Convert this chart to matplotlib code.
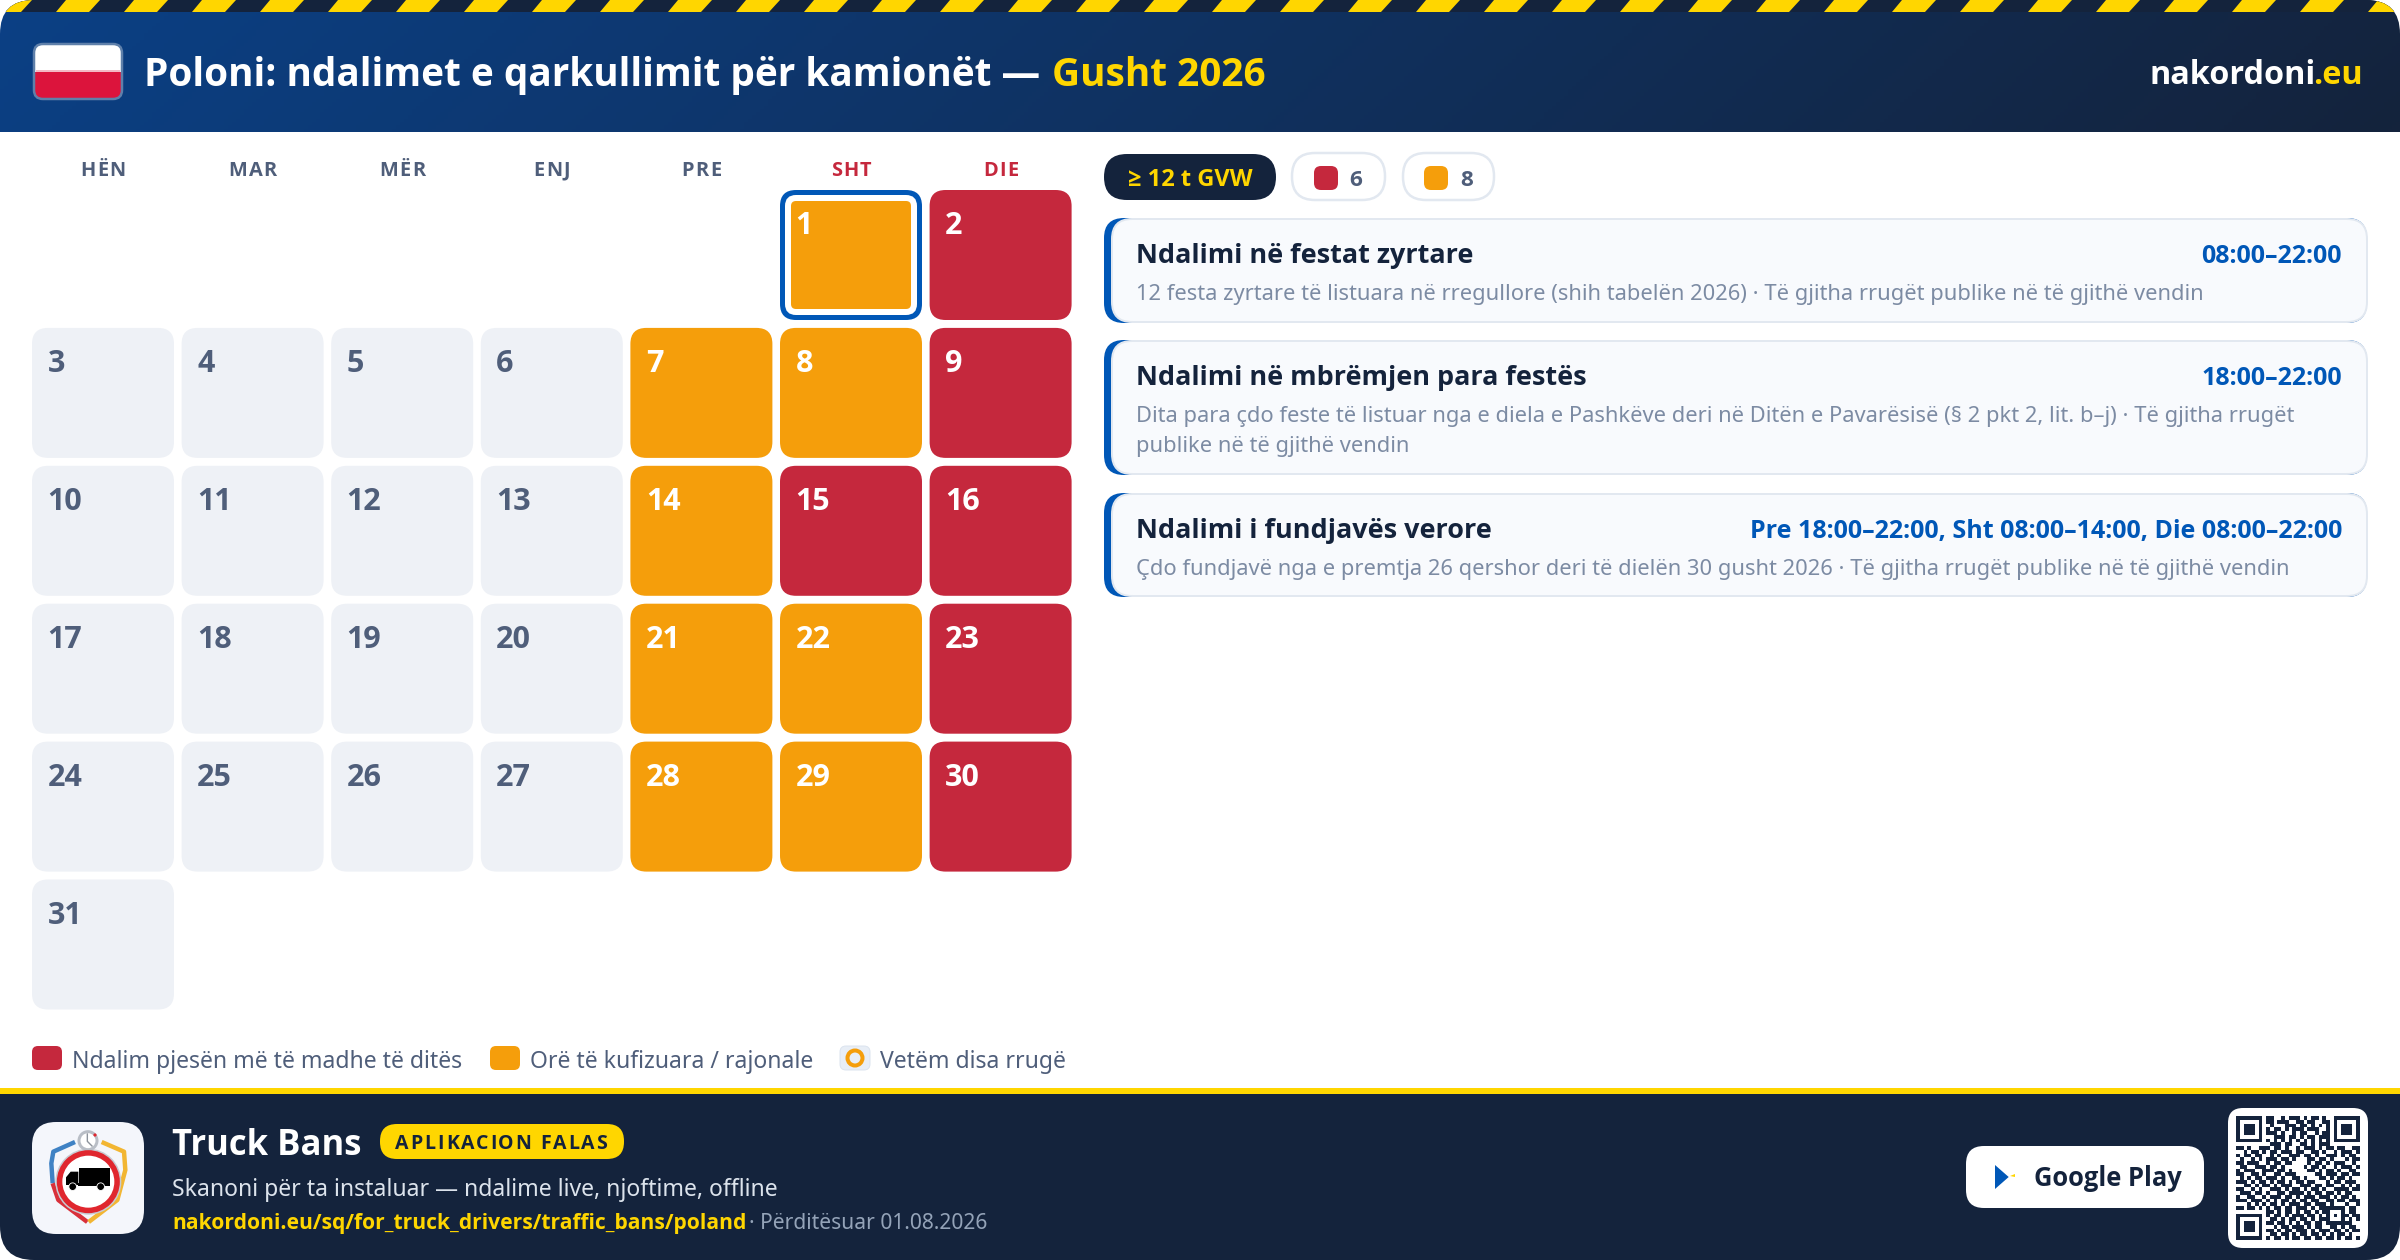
import matplotlib
matplotlib.use('Agg')
import matplotlib.pyplot as plt
import numpy as np
from matplotlib.colors import ListedColormap, LinearSegmentedColormap
from matplotlib.font_manager import FontProperties
from matplotlib.patches import Circle, FancyBboxPatch, Polygon, Rectangle
from matplotlib.textpath import text_to_path

# Noto Sans has no bold cut here, Open Sans Bold is the closest one
REGULAR_FONT = ['Noto Sans', 'DejaVu Sans']
BOLD_FONT = ['Open Sans', 'DejaVu Sans']
plt.rcParams['font.family'] = REGULAR_FONT

# Calendar data
WEEKDAYS = ['HËN', 'MAR', 'MËR', 'ENJ', 'PRE', 'SHT', 'DIE']
FIRST_COLUMN = 5
RED_DAYS = [2, 9, 15, 16, 23, 30]
ORANGE_DAYS = [1, 7, 8, 14, 21, 22, 28, 29]
TODAY = 1
N_DAYS = 31

# Text
TITLE = 'Poloni: ndalimet e qarkullimit për kamionët — '
TITLE_MONTH = 'Gusht 2026'
RULES = [
    ('Ndalimi në festat zyrtare', '08:00–22:00',
     ['12 festa zyrtare të listuara në rregullore (shih tabelën 2026) · Të gjitha rrugët publike në të gjithë vendin']),
    ('Ndalimi në mbrëmjen para festës', '18:00–22:00',
     ['Dita para çdo feste të listuar nga e diela e Pashkëve deri në Ditën e Pavarësisë (§ 2 pkt 2, lit. b–j) · Të gjitha rrugët',
      'publike në të gjithë vendin']),
    ('Ndalimi i fundjavës verore', 'Pre 18:00–22:00, Sht 08:00–14:00, Die 08:00–22:00',
     ['Çdo fundjavë nga e premtja 26 qershor deri të dielën 30 gusht 2026 · Të gjitha rrugët publike në të gjithë vendin']),
]
LEGEND = ['Ndalim pjesën më të madhe të ditës', 'Orë të kufizuara / rajonale', 'Vetëm disa rrugë']

# QR pattern
QR_ROWS = [
    '1111111' + '0' + '11001011101011010' + '0' + '1111111',
    '1000001' + '0' + '11011100110110011' + '0' + '1000001',
    '1011101' + '0' + '01000111011010101' + '0' + '1011101',
    '1011101' + '0' + '10110101110111001' + '0' + '1011101',
    '1011101' + '0' + '11101001011001011' + '0' + '1011101',
    '1000001' + '0' + '00111011010110111' + '0' + '1000001',
    '1111111' + '0' + '10101010101010101' + '0' + '1111111',
    '00000000' + '01110110011010111' + '00000000',
    '110100111011010010111010110110011',
    '001011010110111011001101001011101',
    '101101100101001110110100111010110',
    '010010101110110100011011010001011',
    '110111001011011000010110101110010',
    '011001110110100000101101001011101',
    '101110011101101000011010110100110',
    '110011010011011100000110111011011',
    '010101101110100110100011010110100',
    '111010110101101011011000101101110',
    '001101011010111001110110110010101',
    '110010100111010110101101001111011',
    '011101101001101111010110110101100',
    '100110010111011010111011101011010',
    '111011101010110101101100110110111',
    '000101010110101110110111010001001',
    '110110101011011011101011' + '11111' + '0110',
    '00000000' + '1101011010110101' + '10001' + '0110',
    '11111110' + '1011010111011010' + '10101' + '1011',
    '10000010' + '0110101101101011' + '10001' + '0101',
    '10111010' + '1101101010110110' + '11111' + '1100',
    '10111010' + '0010110111010110' + '01101' + '0110',
    '10111010' + '1101011011101011' + '10110' + '1011',
    '10000010' + '0110110101101101' + '01011' + '0100',
    '11111110' + '1011010110110110' + '11010' + '1101',
]

# Colours
NAVY = '#14233C'
YELLOW = '#FFD600'
RED = '#C5283D'
ORANGE = '#F59E0B'
BLUE = '#0057B7'
GREY_CELL = '#EEF1F6'
SLATE = '#4F5E7A'
MUTED = '#7C8BA3'
BORDER = '#E2E8F0'

fig = plt.figure(figsize=(24, 12.6), dpi=100)
ax = fig.add_axes([0, 0, 1, 1])
ax.axis('off')


def box(x, y, w, h, r, color, edge='none', lw=0, z=1):
    p = FancyBboxPatch((x, y), w, h, boxstyle=f'round,pad=0,rounding_size={r}',
                       facecolor=color, edgecolor=edge, linewidth=lw * 0.72, zorder=z)
    ax.add_patch(p)
    return p


def write(x, y, s, px, color, weight='normal', ha='left'):
    family = BOLD_FONT if weight == 'bold' else REGULAR_FONT
    return ax.text(x, y, s, fontsize=px * 0.72, color=color, fontweight=weight, family=family,
                   ha=ha, va='baseline', zorder=6)


def spaced(x, y, s, px, color, spacing, center=False):
    # matplotlib has no letter spacing, so place the letters one by one
    prop = FontProperties(family=BOLD_FONT, weight='bold', size=px)
    def adv(t):
        return text_to_path.get_text_width_height_descent(t, prop, False)[0]
    total = adv(s) + spacing * (len(s) - 1)
    x0 = x - total / 2 if center else x
    for i, ch in enumerate(s):
        if ch == ' ':
            continue
        write(x0 + adv(s[:i + 1]) - adv(ch) + i * spacing, y, ch, px, color, 'bold')


# Card with rounded outer corners, everything at the edges is clipped to it
card = box(0, 0, 2400, 1260, 34, 'white', z=0)

# Header gradient
gx, gy = np.meshgrid(np.linspace(0, 1, 600), np.linspace(0, 1, 40))
grad = (gx * 2400 + gy * 132) / (2400 + 132)
cmap = LinearSegmentedColormap.from_list('head', ['#0B4085', '#14233C'])
im = ax.imshow(grad, cmap=cmap, extent=(0, 2400, 132, 0), aspect='auto', zorder=1)
im.set_clip_path(card)

# Hazard stripe
band = Rectangle((0, 0), 2400, 12, facecolor=NAVY, zorder=1.1)
ax.add_patch(band)
band.set_clip_path(card)
for sx in range(-12, 2420, 68):
    st = Polygon([(sx + 10, 0), (sx + 44, 0), (sx + 33, 12), (sx, 12)], facecolor=YELLOW, zorder=1.2)
    ax.add_patch(st)
    st.set_clip_path(card)

# Flag, with the soft edge between the two halves
flag = box(34, 44, 88, 55, 9, 'white', z=2)
red_half = Rectangle((34, 72), 88, 27, facecolor='#DC143C', zorder=2.1)
ax.add_patch(red_half)
red_half.set_clip_path(flag)
ax.add_patch(Rectangle((36, 69.5), 84, 2.5, facecolor='#F3B9C4', zorder=2.15))
box(34, 44, 88, 55, 9, 'none', edge='#5F80AA', lw=2.5, z=2.2)

write(144, 86, TITLE, 38.8, 'white', 'bold')
write(1052, 86, TITLE_MONTH, 38.8, YELLOW, 'bold')
write(2363, 84, '.eu', 32.4, YELLOW, 'bold', ha='right')
write(2149, 84, 'nakordoni', 32.4, 'white', 'bold')

# Calendar
col_w, row_h = 149.6, 137.9
cell_w, cell_h = 142, 130
for i, name in enumerate(WEEKDAYS):
    color = RED if i >= 5 else SLATE
    spaced(32 + col_w * i + cell_w / 2, 175.7, name, 20, color, 1.3, center=True)

for day in range(1, N_DAYS + 1):
    pos = FIRST_COLUMN + day - 1
    x = 32 + col_w * (pos % 7)
    y = 190 + row_h * (pos // 7)
    if day in RED_DAYS:
        fill, txt = RED, 'white'
    elif day in ORANGE_DAYS:
        fill, txt = ORANGE, 'white'
    else:
        fill, txt = GREY_CELL, SLATE
    if day == TODAY:
        box(x, y, cell_w, cell_h, 16, BLUE)
        box(x + 5, y + 5, cell_w - 10, cell_h - 10, 11, 'white')
        box(x + 11, y + 11, cell_w - 22, cell_h - 22, 5, fill)
    else:
        box(x, y, cell_w, cell_h, 16, fill)
    write(x + 15.5, y + 44, str(day), 30.5, txt, 'bold')

# Legend
write(72, 1068, LEGEND[0], 23, SLATE)
write(530, 1068, LEGEND[1], 23, SLATE)
write(880, 1068, LEGEND[2], 23, SLATE)
box(32, 1046, 30, 24, 6, RED)
box(490, 1046, 30, 24, 6, ORANGE)
box(840, 1046, 30, 24, 6, '#E8EEF6', edge='#DCE4EF', lw=1)
ax.add_patch(Circle((855, 1058), 7.5, facecolor='none', edgecolor=ORANGE, linewidth=4 * 0.72, zorder=2))

# Filter pills
box(1104, 154, 172, 46, 23, NAVY)
write(1128, 185.7, '≥ 12 t GVW', 23.6, YELLOW, 'bold')
box(1292, 153, 93, 47, 23, 'white', edge=BORDER, lw=2.5)
box(1314, 166, 24, 24, 7, RED)
write(1349, 185.5, str(len(RED_DAYS)), 22.5, SLATE, 'bold')
box(1403, 153, 91, 47, 23, 'white', edge=BORDER, lw=2.5)
box(1424, 166, 24, 24, 7, ORANGE)
write(1460, 185.5, str(len(ORANGE_DAYS)), 22.5, SLATE, 'bold')

# Rule cards
tops = [218, 340, 493]
heights = [105, 135, 104]
for (head, hours, lines), top, h in zip(RULES, tops, heights):
    box(1104, top, 1263, h, 20, BLUE)
    box(1112, top + 1, 1255, h - 2, 20, '#F8FAFD', edge=BORDER, lw=2, z=1.1)
    write(1136, top + 45, head, 27, NAVY, 'bold')
    write(2342, top + 45, hours, 25, BLUE, 'bold', ha='right')
    for j, line in enumerate(lines):
        write(1136, top + 82 + j * 30, line, 21.9, MUTED)

# Footer
foot = Rectangle((0, 1094), 2400, 166, facecolor=NAVY, zorder=1)
ax.add_patch(foot)
foot.set_clip_path(card)
ax.add_patch(Rectangle((0, 1088), 2400, 6, facecolor=YELLOW, zorder=1))

# App icon, positions taken from a 3x crop starting at (30, 1120)
def zx(v):
    return 30 + v / 3


def zy(v):
    return 1120 + v / 3


box(32, 1122, 112, 112, 24, '#F4F6FB', z=2)
ax.plot([zx(v) for v in (135, 70, 64, 68)], [zy(v) for v in (66, 95, 130, 190)],
        color='#3F82C4', lw=3.2, solid_capstyle='butt', zorder=2.2)
ax.plot([zx(v) for v in (68, 85, 172)], [zy(v) for v in (190, 240, 306)],
        color='#D9303A', lw=3.2, solid_capstyle='butt', zorder=2.2)
ax.plot([zx(v) for v in (215, 282, 286, 262, 176)], [zy(v) for v in (66, 95, 150, 240, 306)],
        color='#F2B632', lw=3.2, solid_capstyle='butt', zorder=2.2)
ax.add_patch(Circle((zx(175), zy(185)), 33, facecolor='#C7CBD2', zorder=2.5))
ax.add_patch(Circle((zx(175), zy(185)), 31.5, facecolor='#E0262E', zorder=2.6))
ax.add_patch(Circle((zx(175), zy(185)), 26, facecolor='white', zorder=2.7))
ax.add_patch(Rectangle((zx(148), zy(145)), 31, 15, facecolor='black', zorder=2.8))
ax.add_patch(Polygon([(zx(108), zy(195)), (zx(108), zy(172)), (zx(122), zy(155)), (zx(145), zy(155)),
                      (zx(145), zy(195))], facecolor='black', zorder=2.8))
ax.add_patch(Rectangle((zx(145), zy(190)), 32, 3, facecolor='black', zorder=2.8))
for wx in (128, 212):
    ax.add_patch(Circle((zx(wx), zy(200)), 3.8, facecolor='black', edgecolor='white', linewidth=0.6, zorder=2.9))
ax.add_patch(Circle((zx(174), zy(62)), 10.5, facecolor='#B9BEC6', zorder=2.5))
ax.add_patch(Circle((zx(174), zy(62)), 7.5, facecolor='white', zorder=2.6))
ax.plot([zx(172), zx(172), zx(186)], [zy(42), zy(64), zy(78)], color='#8D939C', lw=1, zorder=2.7)
ax.add_patch(Circle((zx(195), zy(45)), 1.6, facecolor='#E0262E', zorder=2.8))

write(172, 1155, 'Truck Bans', 34.7, 'white', 'bold')
box(380, 1124, 244, 35, 17, YELLOW)
spaced(395, 1149, 'APLIKACION FALAS', 19.5, NAVY, 1.9)
write(172, 1195.7, 'Skanoni për ta instaluar — ndalime live, njoftime, offline', 23, '#DCE3EC')
write(172, 1229, 'nakordoni.eu/sq/for_truck_drivers/traffic_bans/poland', 21, YELLOW, 'bold')
write(749, 1229, '· Përditësuar 01.08.2026', 21, '#94A3B8')

# Store button
box(1966, 1146, 238, 62, 18, 'white', z=2)
ax.add_patch(Polygon([(1995, 1165), (2008.7, 1177), (1995, 1189)], facecolor=BLUE, zorder=3))
ax.add_patch(Polygon([(2010, 1176), (2015, 1174), (2015, 1177)], facecolor=YELLOW, zorder=3))
write(2034, 1186, 'Google Play', 25.5, NAVY, 'bold')

# QR code
box(2228, 1108, 140, 140, 15, 'white', z=2)
qr = np.array([[int(c) for c in row] for row in QR_ROWS])
ax.imshow(qr, cmap=ListedColormap(['white', NAVY]), extent=(2236, 2360, 1240, 1116),
          interpolation='nearest', aspect='auto', zorder=3)

ax.set_xlim(0, 2400)
ax.set_ylim(1260, 0)
fig.savefig('out.png', dpi=100, facecolor='white')
